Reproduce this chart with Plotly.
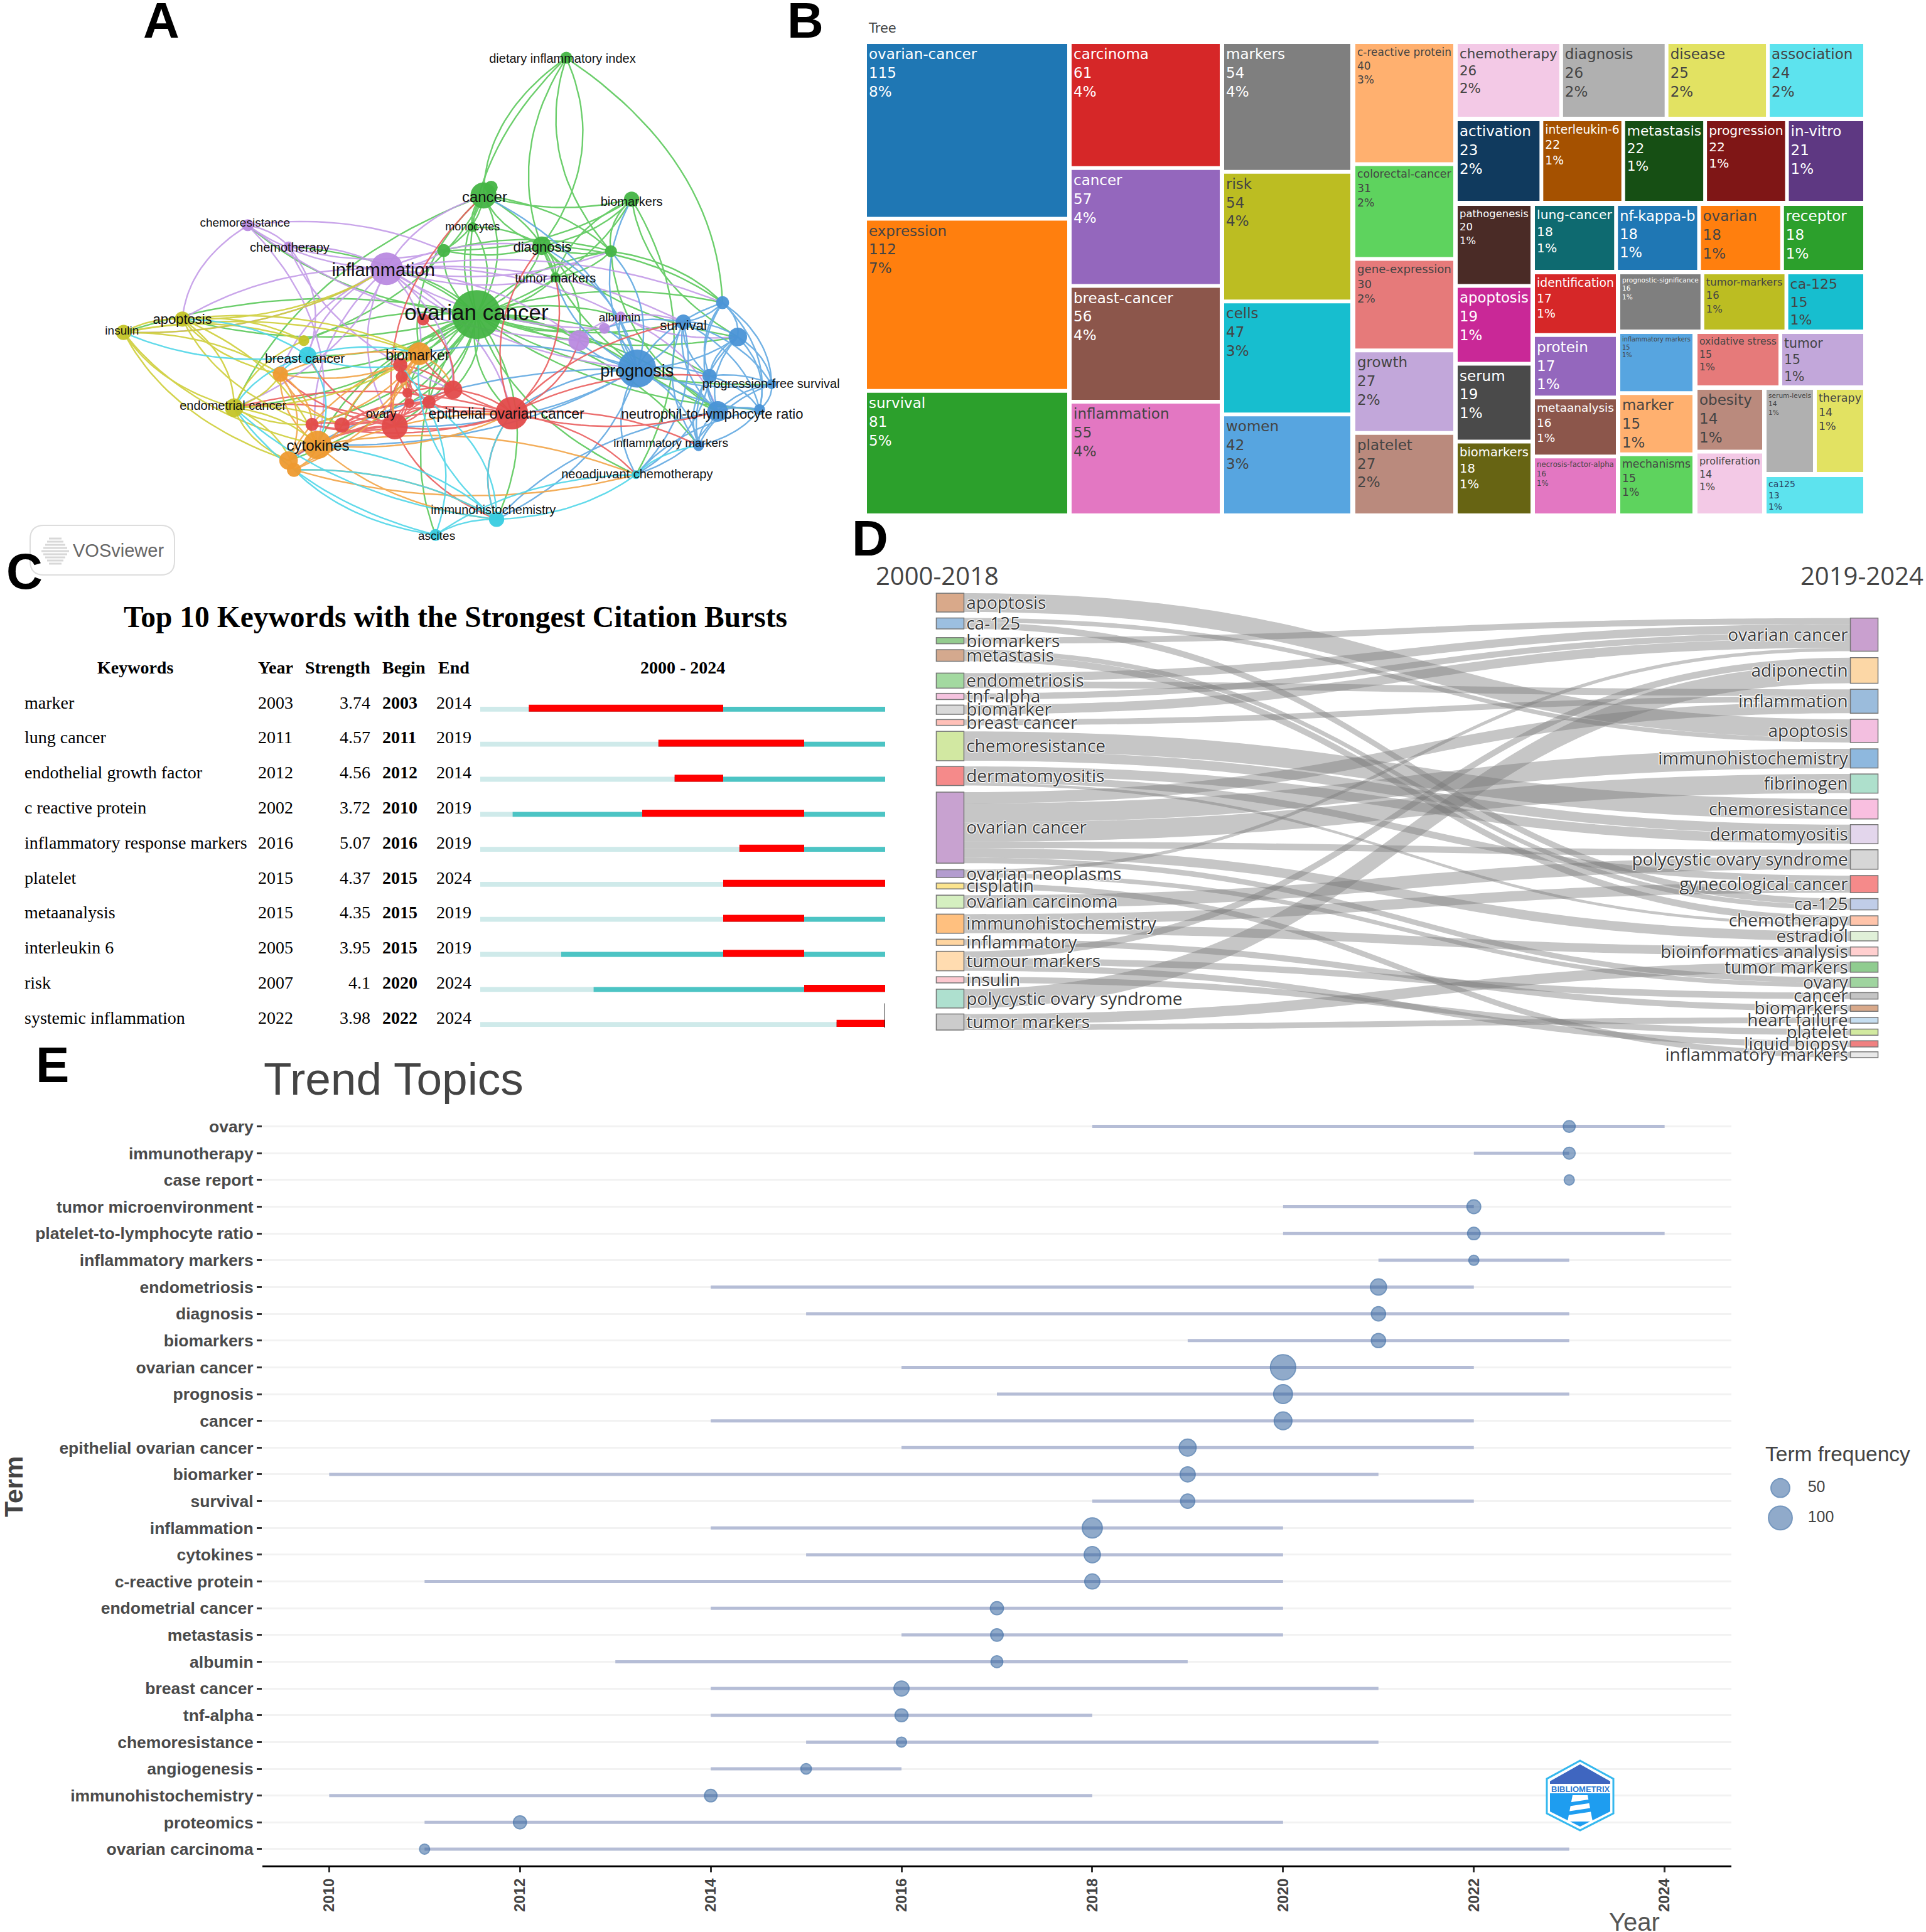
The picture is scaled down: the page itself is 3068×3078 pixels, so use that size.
import plotly.graph_objects as go

W = 3068
H = 3078


def fx(x):
    return x / W


def fy(y):
    return 1 - y / H


# ---- A: keyword network (units are picture units, mapped on the axes below)
node_ids = ["oc", "infl", "prog", "eoc", "ovary", "cancer", "can2", "bmks", "diet", "mono", "g1", "diag", "g2", "tm",
            "chemr", "chemo", "alb", "p1", "p2", "surv", "b1", "b2", "b3", "pfs", "nlr", "b4", "im", "neo", "ihc",
            "asc", "bc", "ins", "apo", "o1", "ec", "bmk", "or1", "cyt", "or2", "or3", "r1", "r2", "r3", "r4", "r5",
            "r6", "r7", "r8", "r9"]
node_x = [875, 710, 1170, 940, 725, 888, 902, 1160, 1040, 868, 815, 995, 1122, 1020,
          455, 530, 1140, 1110, 1063, 1255, 1327, 1355, 1303, 1417, 1318, 1395, 1283, 1168, 912,
          800, 565, 227, 335, 558, 430, 770, 515, 583, 530, 540, 735, 738, 748, 752, 788,
          832, 628, 573, 777]
node_y = [845, 722, 990, 1110, 1145, 525, 503, 535, 155, 610, 673, 660, 675, 745,
          605, 662, 850, 882, 915, 865, 813, 905, 1010, 1032, 1105, 1100, 1197, 1275, 1395,
          1437, 955, 893, 857, 915, 1095, 950, 1005, 1195, 1237, 1262, 980, 1012, 1055, 1083, 1080,
          1047, 1142, 1140, 858]
node_r = [45, 30, 35, 30, 24, 24, 12, 14, 11, 9, 12, 17, 11, 9,
          11, 9, 9, 10, 19, 14, 12, 17, 13, 9, 19, 10, 10, 8, 14,
          11, 16, 14, 14, 10, 17, 21, 14, 26, 17, 13, 13, 11, 9, 9, 12,
          17, 14, 12, 11]
node_group = ["green", "purple", "blue", "red", "red", "green", "green", "green", "green", "green", "green", "green",
              "green", "green", "purple", "purple", "purple", "purple", "purple", "blue", "blue", "blue", "blue",
              "blue", "blue", "blue", "blue", "cyan", "cyan", "cyan", "cyan", "olive", "olive", "olive", "olive",
              "orange", "orange", "orange", "orange", "orange", "red", "red", "red", "red", "red", "red", "red",
              "red", "red"]
group_colors = {"green": "#5cc95c", "purple": "#c49ce8", "blue": "#62a9e2", "red": "#ea5f5f", "orange": "#f2a548",
                "olive": "#cfcf3a", "cyan": "#50d6e8"}
node_colors = {"green": "#45b445", "purple": "#b98ae0", "blue": "#4a94d6", "red": "#e24a4a", "orange": "#ee9a30",
               "olive": "#c4c428", "cyan": "#38cce0"}
node_labels = {"oc": "ovarian cancer", "infl": "inflammation", "prog": "prognosis", "cancer": "cancer",
               "eoc": "epithelial ovarian cancer", "ovary": "ovary", "bmks": "biomarkers",
               "diet": "dietary inflammatory index", "mono": "monocytes", "diag": "diagnosis", "tm": "tumor markers",
               "chemr": "chemoresistance", "chemo": "chemotherapy", "alb": "albumin", "surv": "survival",
               "pfs": "progression-free survival", "nlr": "neutrophil-to-lymphocyte ratio",
               "im": "inflammatory markers", "neo": "neoadjuvant chemotherapy", "ihc": "immunohistochemistry",
               "asc": "ascites", "bc": "breast cancer", "ins": "insulin", "apo": "apoptosis",
               "ec": "endometrial cancer", "bmk": "biomarker", "cyt": "cytokines"}
label_x = {"oc": 875, "infl": 704, "prog": 1170, "cancer": 890, "eoc": 930, "ovary": 700, "bmks": 1160, "diet": 1033,
           "mono": 868, "diag": 996, "tm": 1020, "chemr": 450, "chemo": 532, "alb": 1138, "surv": 1255, "pfs": 1416,
           "nlr": 1308, "im": 1232, "neo": 1170, "ihc": 906, "asc": 802, "bc": 560, "ins": 224, "apo": 335, "ec": 428,
           "bmk": 767, "cyt": 584}
label_y = {"oc": 845, "infl": 730, "prog": 1000, "cancer": 533, "eoc": 1115, "ovary": 1115, "bmks": 545, "diet": 160,
           "mono": 612, "diag": 666, "tm": 750, "chemr": 600, "chemo": 668, "alb": 855, "surv": 877, "pfs": 1034,
           "nlr": 1115, "im": 1192, "neo": 1276, "ihc": 1372, "asc": 1442, "bc": 965, "ins": 891, "apo": 861, "ec": 1092,
           "bmk": 958, "cyt": 1201}
label_size = {"oc": 35, "infl": 29, "prog": 27, "cancer": 24, "eoc": 23, "ovary": 20, "bmks": 20, "diet": 20,
              "mono": 18, "diag": 22, "tm": 20, "chemr": 19, "chemo": 20, "alb": 19, "surv": 22, "pfs": 20,
              "nlr": 22, "im": 19, "neo": 20, "ihc": 20, "asc": 19, "bc": 21, "ins": 19, "apo": 22, "ec": 20,
              "bmk": 23, "cyt": 24}
hub_links = {
    "oc": "infl prog eoc ovary cancer can2 bmks diet mono g1 diag g2 tm chemr chemo alb p1 p2 surv b1 b2 b3 pfs nlr b4 im neo ihc asc bc ins apo o1 ec bmk or1 cyt or2 r1 r2 r3 r4 r5 r6 r7 r8 r9",
    "infl": "cancer g1 diag tm chemr chemo alb p1 p2 prog ins apo ec bc bmk ovary eoc cyt surv g2 b1 or1 r6",
    "prog": "p1 p2 surv b1 b2 b3 pfs nlr b4 im neo ihc eoc alb diag tm cancer bmks g2 ovary bmk cyt or2",
    "eoc": "ovary r6 r5 r7 bmk cyt neo ihc im nlr surv tm diag ec b3 p2 r8",
    "ovary": "r7 r8 r1 r2 r3 r4 r5 r6 cyt or1 ec bmk ihc bc or2 cancer",
    "cancer": "can2 diet mono g1 diag g2 bmks tm bmk o1 ec",
    "bmks": "diag g2 g1 tm neo b2",
    "diet": "diag tm b1 g2",
    "diag": "g1 g2 tm mono b1 b2 p2 nlr",
    "g2": "tm g1 b1 nlr",
    "chemr": "chemo apo g1 p2 cyt",
    "chemo": "g1 bc r6",
    "alb": "p1 p2 surv b2 nlr",
    "surv": "b1 b2 b3 pfs nlr b4 im neo p1",
    "b1": "b2 b3 pfs nlr b4",
    "b2": "b3 pfs nlr b4 im",
    "b3": "pfs nlr b4 im neo",
    "pfs": "nlr b4 im",
    "nlr": "b4 im neo ihc",
    "b4": "im neo",
    "neo": "ihc asc im",
    "ihc": "asc eoc r5 bmk or3 ec cyt",
    "asc": "ec r1 or3",
    "bc": "or1 bmk ec cyt apo ins r1",
    "ins": "apo ec or1 or2 bmk cyt o1 infl",
    "apo": "ec or1 o1 infl cyt r8 bmk",
    "ec": "or1 cyt or2 or3 r8 r7 bmk o1",
    "bmk": "or1 cyt or2 or3 r1 r2 r3 r6 r7 r8 ovary",
    "cyt": "or1 or2 or3 r7 r8 eoc neo ihc",
    "or1": "r8 r7 or2 r1",
    "or3": "ihc neo eoc",
    "r6": "r1 r2 r3 r4 r5 r7 r9",
    "r5": "r1 r3 r4 r7",
    "r1": "r2 r3 r4",
    "r2": "r3 r4",
    "r7": "r8 r4",
}

# ---- B: keyword treemap
tree_terms = ["ovarian-cancer", "expression", "survival", "carcinoma", "cancer", "breast-cancer", "inflammation",
              "markers", "risk", "cells", "women", "c-reactive protein", "colorectal-cancer", "gene-expression",
              "growth", "platelet", "chemotherapy", "diagnosis", "disease", "association", "activation",
              "interleukin-6", "metastasis", "progression", "in-vitro", "pathogenesis", "apoptosis", "serum",
              "biomarkers", "lung-cancer", "nf-kappa-b", "ovarian", "receptor", "identification", "protein",
              "metaanalysis", "necrosis-factor-alpha", "prognostic-significance", "tumor-markers", "ca-125",
              "inflammatory markers", "marker", "mechanisms", "oxidative stress", "tumor", "obesity", "proliferation",
              "serum-levels", "therapy", "ca125"]
tree_counts = [115, 112, 81, 61, 57, 56, 55, 54, 54, 47, 42, 40, 31, 30, 27, 27, 26, 26, 25, 24, 23, 22, 22, 22, 21,
               20, 19, 19, 18, 18, 18, 18, 18, 17, 17, 16, 16, 16, 16, 15, 15, 15, 15, 15, 15, 14, 14, 14, 14, 13]
tree_colors = ["#1f77b4", "#ff7f0e", "#2ca02c", "#d62728", "#9467bd", "#8c564b", "#e377c2", "#7f7f7f", "#bcbd22",
               "#17becf", "#57a5e0", "#ffb06f", "#5ed35e", "#e67a7a", "#c2a7da", "#ba8a7d", "#f3c9e6", "#b0b0b0",
               "#e2e262", "#5de3ee", "#103a5e", "#a55100", "#164f14", "#7f1616", "#5e3882", "#4a2b26", "#c92897",
               "#4a4a4a", "#676413", "#0e6a70", "#1f77b4", "#ff7f0e", "#2ca02c", "#d62728", "#9467bd", "#8c564b",
               "#e377c2", "#7f7f7f", "#bcbd22", "#17becf", "#57a5e0", "#ffb06f", "#5ed35e", "#e67a7a", "#c2a7da",
               "#ba8a7d", "#f3c9e6", "#b0b0b0", "#e2e262", "#5de3ee"]
# how many terms go in each strip of tiles, and the box of that strip on the page
tree_strip_len = [3, 4, 4, 5, 4, 5, 4, 4, 4, 3, 3, 2, 2, 2, 1]
tree_strip_box = [(1381, 1700, 70, 818), (1707, 1943, 70, 818), (1950, 2151, 70, 818), (2159, 2315, 70, 818),
                  (2322, 2968, 70, 186), (2322, 2968, 193, 320), (2322, 2438, 328, 818),
                  (2445, 2968, 328, 430), (2445, 2574, 437, 818), (2581, 2968, 437, 525), (2581, 2696, 532, 818),
                  (2704, 2968, 532, 614), (2704, 2807, 621, 818), (2814, 2968, 621, 752), (2814, 2968, 760, 818)]

# ---- C: citation bursts
burst_keywords = ["marker", "lung cancer", "endothelial growth factor", "c reactive protein",
                  "inflammatory response markers", "platelet", "metaanalysis", "interleukin 6", "risk",
                  "systemic inflammation"]
burst_year = [2003, 2011, 2012, 2002, 2016, 2015, 2015, 2005, 2007, 2022]
burst_strength = ["3.74", "4.57", "4.56", "3.72", "5.07", "4.37", "4.35", "3.95", "4.1", "3.98"]
burst_begin = [2003, 2011, 2012, 2010, 2016, 2015, 2015, 2015, 2020, 2022]
burst_end = [2014, 2019, 2014, 2019, 2019, 2024, 2019, 2019, 2024, 2024]

# ---- D: thematic evolution
left_terms = ["apoptosis", "ca-125", "biomarkers", "metastasis", "endometriosis", "tnf-alpha", "biomarker",
              "breast cancer", "chemoresistance", "dermatomyositis", "ovarian cancer", "ovarian neoplasms", "cisplatin",
              "ovarian carcinoma", "immunohistochemistry", "inflammatory", "tumour markers", "insulin",
              "polycystic ovary syndrome", "tumor markers"]
left_colors = ["#d9a98a", "#9cbfe0", "#94cc8e", "#d4a98e", "#a3d9a0", "#f5c3df", "#d9d9d9", "#ffc0b8", "#d2e8a2",
               "#f58a8a", "#c8a2d0", "#b39ccf", "#fbe48e", "#d5efc0", "#ffc07f", "#ffd5a0", "#ffdcb0", "#fcc8cf",
               "#aee0cf", "#cccccc"]
left_top = [228, 300, 357, 392, 460, 519, 553, 595, 629, 731, 805, 1031, 1070, 1105, 1160, 1233, 1268, 1342, 1378, 1450]
left_bottom = [283, 332, 375, 426, 504, 537, 580, 612, 715, 787, 1013, 1054, 1087, 1143, 1216, 1251, 1325, 1360, 1433, 1497]
right_terms = ["ovarian cancer", "adiponectin", "inflammation", "apoptosis", "immunohistochemistry", "fibrinogen",
               "chemoresistance", "dermatomyositis", "polycystic ovary syndrome", "gynecological cancer", "ca-125",
               "chemotherapy", "estradiol", "bioinformatics analysis", "tumor markers", "ovary", "cancer", "biomarkers",
               "heart failure", "platelet", "liquid biopsy", "inflammatory markers"]
right_colors = ["#c9a0cf", "#fcd7a6", "#9bbcdc", "#f3bfe0", "#8eb8de", "#aee0cc", "#f9bfe0", "#e3d6ec", "#d6d6d6",
                "#f58a8a", "#c0cde8", "#ffc4aa", "#e0f0d8", "#ffcfcf", "#8fcc8f", "#9fd49f", "#c4c4c4", "#d9a98a",
                "#c6def0", "#d2eaa0", "#f08080", "#e8e8e8"]
right_top = [300, 415, 507, 594, 680, 753, 827, 900, 973, 1048, 1115, 1165, 1210, 1255, 1300, 1345, 1388, 1425, 1460,
             1494, 1529, 1560]
right_bottom = [397, 490, 577, 662, 736, 809, 883, 956, 1030, 1098, 1148, 1193, 1238, 1282, 1328, 1372, 1407, 1442,
                1477, 1512, 1545, 1577]
link_from = ["apoptosis", "ca-125", "ca-125", "biomarkers", "metastasis", "metastasis", "endometriosis", "endometriosis",
             "tnf-alpha", "biomarker", "breast cancer", "chemoresistance", "chemoresistance", "dermatomyositis",
             "dermatomyositis", "dermatomyositis", "ovarian cancer", "ovarian cancer", "ovarian cancer",
             "ovarian cancer", "ovarian cancer", "ovarian cancer", "ovarian neoplasms", "ovarian neoplasms",
             "cisplatin", "ovarian carcinoma", "immunohistochemistry", "immunohistochemistry", "inflammatory",
             "tumour markers", "tumour markers", "tumour markers", "insulin", "polycystic ovary syndrome",
             "tumor markers", "tumor markers"]
link_to = ["apoptosis", "apoptosis", "ca-125", "ovarian cancer", "ca-125", "chemotherapy", "ovarian cancer",
           "inflammation", "ovarian cancer", "ovarian cancer", "inflammation", "chemoresistance", "dermatomyositis",
           "dermatomyositis", "gynecological cancer", "chemotherapy", "inflammation", "immunohistochemistry",
           "fibrinogen", "polycystic ovary syndrome", "estradiol", "ovary", "ovarian cancer", "ovary",
           "inflammatory markers", "polycystic ovary syndrome", "gynecological cancer", "bioinformatics analysis",
           "biomarkers", "adiponectin", "cancer", "liquid biopsy", "platelet", "adiponectin", "tumor markers",
           "heart failure"]
link_value = [55, 13, 19, 18, 14, 20, 24, 20, 18, 27, 17, 58, 28, 28, 20, 8, 33, 56, 56, 19, 28, 16, 10, 13, 17, 38,
              30, 26, 18, 20, 19, 18, 18, 55, 30, 17]

# ---- E: trend topics
trend_terms = ["ovary", "immunotherapy", "case report", "tumor microenvironment", "platelet-to-lymphocyte ratio",
               "inflammatory markers", "endometriosis", "diagnosis", "biomarkers", "ovarian cancer", "prognosis",
               "cancer", "epithelial ovarian cancer", "biomarker", "survival", "inflammation", "cytokines",
               "c-reactive protein", "endometrial cancer", "metastasis", "albumin", "breast cancer", "tnf-alpha",
               "chemoresistance", "angiogenesis", "immunohistochemistry", "proteomics", "ovarian carcinoma"]
trend_q1 = [2018, 2022, 2023, 2020, 2020, 2021, 2014, 2015, 2019, 2016, 2017, 2014, 2016, 2010, 2018, 2014, 2015, 2011,
            2014, 2016, 2013, 2014, 2014, 2015, 2014, 2010, 2011, 2011]
trend_median = [2023, 2023, 2023, 2022, 2022, 2022, 2021, 2021, 2021, 2020, 2020, 2020, 2019, 2019, 2019, 2018, 2018,
                2018, 2017, 2017, 2017, 2016, 2016, 2016, 2015, 2014, 2012, 2011]
trend_q3 = [2024, 2023, 2023, 2022, 2024, 2023, 2022, 2023, 2023, 2022, 2023, 2022, 2022, 2021, 2022, 2020, 2020, 2020,
            2020, 2020, 2019, 2021, 2018, 2021, 2016, 2018, 2020, 2023]
trend_freq = [13, 13, 8, 20, 15, 8, 32, 22, 22, 120, 50, 42, 37, 26, 22, 60, 32, 26, 17, 15, 13, 26, 17, 8, 9, 15, 17, 8]
legend_freq = [50, 100]


def freq_size(f):
    return 7.9 * f ** 0.34


fig = go.Figure()
annotations = []
shapes = []


def note(x, y, text, size, color="#000000", family="Liberation Sans", xanchor="left", bold=False, angle=0):
    annotations.append(dict(xref="paper", yref="paper", x=fx(x), y=fy(y), text=f"<b>{text}</b>" if bold else text,
                            showarrow=False, xanchor=xanchor, yanchor="middle", textangle=angle,
                            font=dict(size=size, color=color, family=family)))


# ---- panel A
pos = {n: (node_x[i], node_y[i], node_group[i]) for i, n in enumerate(node_ids)}
edge_x = {g: [] for g in group_colors}
edge_y = {g: [] for g in group_colors}
flip = 1
for hub, targets in hub_links.items():
    x0, y0, grp = pos[hub]
    for t in targets.split():
        x1, y1, _ = pos[t]
        # curved links like VOSviewer draws them
        cx = (x0 + x1) / 2 - (y1 - y0) * 0.2 * flip
        cy = (y0 + y1) / 2 + (x1 - x0) * 0.2 * flip
        flip = -flip
        for k in range(25):
            s = k / 24
            edge_x[grp].append((1 - s) ** 2 * x0 + 2 * s * (1 - s) * cx + s ** 2 * x1)
            edge_y[grp].append((1 - s) ** 2 * y0 + 2 * s * (1 - s) * cy + s ** 2 * y1)
        edge_x[grp].append(None)
        edge_y[grp].append(None)
for g, c in group_colors.items():
    fig.add_trace(go.Scatter(x=edge_x[g], y=edge_y[g], mode="lines", xaxis="x", yaxis="y", hoverinfo="skip",
                             line=dict(color=c, width=2.4), opacity=0.9, showlegend=False))
fig.add_trace(go.Scatter(x=node_x, y=node_y, mode="markers", xaxis="x", yaxis="y", showlegend=False,
                         marker=dict(size=[r * 2 / 1.153 for r in node_r], color=[node_colors[g] for g in node_group],
                                     opacity=0.95, line=dict(width=0))))
ids = list(node_labels)
fig.add_trace(go.Scatter(x=[label_x[i] for i in ids], y=[label_y[i] for i in ids], text=[node_labels[i] for i in ids],
                         mode="text", xaxis="x", yaxis="y", showlegend=False, textposition="middle center",
                         textfont=dict(size=[label_size[i] for i in ids], color="#111111", family="Liberation Sans")))

# ---- panel B: one treemap trace per strip, so the tiles fall in the same strips as the picture
tree_total = sum(tree_counts)
tree_pct = [f"{round(100 * v / tree_total)}%" for v in tree_counts]
start = 0
for count, box in zip(tree_strip_len, tree_strip_box):
    part = slice(start, start + count)
    start += count
    fig.add_trace(go.Treemap(labels=tree_terms[part], parents=[""] * count, values=tree_counts[part],
                             customdata=tree_pct[part], texttemplate="%{label}<br>%{value}<br>%{customdata}",
                             sort=True, domain=dict(x=[fx(box[0]), fx(box[1])], y=[fy(box[3]), fy(box[2])]),
                             marker=dict(colors=tree_colors[part], line=dict(width=0), pad=dict(t=0, l=0, r=0, b=0)),
                             tiling=dict(pad=6, squarifyratio=1.1), pathbar=dict(visible=False),
                             textfont=dict(size=23, family="DejaVu Sans")))
note(1381, 45, "Tree", 21, "#444444", "DejaVu Sans")

# ---- panel C
rows = list(range(len(burst_keywords)))
fig.add_trace(go.Bar(y=rows, x=[2025 - 2000] * 10, base=[2000] * 10, orientation="h", width=0.14, offset=-0.07,
                     xaxis="x2", yaxis="y2", marker=dict(color="#cfeaea", line=dict(width=0)), showlegend=False))
fig.add_trace(go.Bar(y=rows, x=[2025 - v for v in burst_year], base=burst_year, orientation="h", width=0.14,
                     offset=-0.07, xaxis="x2", yaxis="y2", marker=dict(color="#4cc4c4", line=dict(width=0)),
                     showlegend=False))
fig.add_trace(go.Bar(y=rows, x=[e + 1 - b for b, e in zip(burst_begin, burst_end)], base=burst_begin, orientation="h",
                     width=0.2, offset=-0.13, xaxis="x2", yaxis="y2", marker=dict(color="#ff0000", line=dict(width=0)),
                     showlegend=False))
fig.add_trace(go.Scatter(x=[2025, 2025], y=[8.4, 9.1], mode="lines", xaxis="x2", yaxis="y2", cliponaxis=False,
                         line=dict(color="#222222", width=2), showlegend=False))
serif = "Liberation Serif"
note(725, 983, "Top 10 Keywords with the Strongest Citation Bursts", 47.5, family=serif, xanchor="center", bold=True)
note(215, 1063, "Keywords", 28, family=serif, xanchor="center", bold=True)
note(409, 1063, "Year", 28, family=serif, bold=True)
note(484, 1063, "Strength", 28, family=serif, bold=True)
note(607, 1063, "Begin", 28, family=serif, bold=True)
note(696, 1063, "End", 28, family=serif, bold=True)
note(1087, 1063, "2000 - 2024", 28, family=serif, xanchor="center", bold=True)
for i in rows:
    ry = 1119 + 55.8 * i
    note(37, ry, burst_keywords[i], 28, family=serif)
    note(409, ry, str(burst_year[i]), 28, family=serif)
    note(592, ry, burst_strength[i], 28, family=serif, xanchor="right")
    note(607, ry, str(burst_begin[i]), 28, family=serif, bold=True)
    note(693, ry, str(burst_end[i]), 28, family=serif)

# ---- panel D
sk_top = 228
sk_bottom = 1577
sk_labels = left_terms + right_terms
sk_x = [0.001] * len(left_terms) + [0.999] * len(right_terms)
sk_y = [((a + b) / 2 - sk_top) / (sk_bottom - sk_top) for a, b in zip(left_top + right_top, left_bottom + right_bottom)]
sk_src = [left_terms.index(n) for n in link_from]
sk_tgt = [len(left_terms) + right_terms.index(n) for n in link_to]
fig.add_trace(go.Sankey(arrangement="fixed", domain=dict(x=[fx(1512), fx(2971)], y=[fy(1685), fy(945)]),
                        node=dict(label=sk_labels, x=sk_x, y=sk_y, color=left_colors + right_colors, pad=11.3,
                                  thickness=44, line=dict(color="#777777", width=1.5)),
                        link=dict(source=sk_src, target=sk_tgt, value=link_value, color="rgba(120,120,120,0.42)"),
                        textfont=dict(size=28, color="#3a3a3a", family="Open Sans")))
note(1393, 916, "2000-2018", 40, "#444444", "Open Sans")
note(3066, 916, "2019-2024", 40, "#444444", "Open Sans", xanchor="right")

# ---- panel E
seg_x = []
seg_y = []
for term, a, b in zip(trend_terms, trend_q1, trend_q3):
    seg_x += [a, b, None]
    seg_y += [term, term, None]
fig.add_trace(go.Scatter(x=seg_x, y=seg_y, mode="lines", xaxis="x3", yaxis="y3", showlegend=False,
                         line=dict(color="#b5bdd6", width=5)))
dot = dict(color="rgba(45,95,155,0.75)", line=dict(color="#3a6ba3", width=2))
fig.add_trace(go.Scatter(x=trend_median, y=trend_terms, mode="markers", xaxis="x3", yaxis="y3", showlegend=False,
                         marker=dict(size=[freq_size(f) for f in trend_freq], **dot)))
legend_labels = [str(f) for f in legend_freq]
fig.add_trace(go.Scatter(x=[0, 0], y=legend_labels, mode="markers", xaxis="x4", yaxis="y4", showlegend=False,
                         marker=dict(size=[freq_size(f) for f in legend_freq], **dot)))
fig.add_trace(go.Scatter(x=[0.78, 0.78], y=legend_labels, mode="text", xaxis="x4", yaxis="y4", showlegend=False,
                         text=legend_labels, textposition="middle right", cliponaxis=False,
                         textfont=dict(size=25, color="#444444", family="Liberation Sans")))
note(2810, 2316, "Term frequency", 33.5, "#444444")
note(418, 1718, "Trend Topics", 73, "#444444")
note(2603, 3062, "Year", 40, "#555555", xanchor="center")
note(22, 2369, "Term", 41, "#444444", xanchor="center", bold=True, angle=-90)

# bibliometrix badge
hex_outer = [(2517, 2805), (2570, 2834), (2570, 2889), (2517, 2916), (2464, 2889), (2464, 2834)]
hex_inner = [(2517, 2811), (2565, 2838), (2565, 2886), (2517, 2910), (2469, 2886), (2469, 2838)]
roof = [(2517, 2811), (2565, 2838), (2565, 2842), (2469, 2842), (2469, 2838)]


def poly(points, fill, line="rgba(0,0,0,0)", lw=0):
    path = "M " + " L ".join(f"{fx(a):.5f} {fy(b):.5f}" for a, b in points) + " Z"
    shapes.append(dict(type="path", xref="paper", yref="paper", path=path, fillcolor=fill, line=dict(color=line, width=lw),
                       layer="above"))


poly(hex_outer, "#ffffff", "#35b8ee", 3)
poly(hex_inner, "#1e9df0")
poly(roof, "#3f66c0")
poly([(2469, 2842), (2565, 2842), (2565, 2857), (2469, 2857)], "#ffffff")
poly([(2505, 2860), (2529, 2860), (2537, 2902), (2497, 2902)], "#ffffff")
poly([(2497, 2872), (2537, 2866), (2537, 2872), (2497, 2878)], "#1e9df0")
poly([(2497, 2886), (2537, 2880), (2537, 2886), (2497, 2892)], "#1e9df0")
note(2517, 2850, "BIBLIOMETRIX", 13, "#2a78d0", xanchor="center", bold=True)

# VOSviewer box
bx0, bx1, by0, by1, rr = fx(48), fx(278), fy(837), fy(916), 22 / W
ry_ = 22 / H
shapes.append(dict(type="path", xref="paper", yref="paper",
                   path=f"M {bx0 + rr} {by0} L {bx1 - rr} {by0} Q {bx1} {by0} {bx1} {by0 - ry_} L {bx1} {by1 + ry_} "
                        f"Q {bx1} {by1} {bx1 - rr} {by1} L {bx0 + rr} {by1} Q {bx0} {by1} {bx0} {by1 + ry_} "
                        f"L {bx0} {by0 - ry_} Q {bx0} {by0} {bx0 + rr} {by0} Z",
                   fillcolor="#ffffff", line=dict(color="#dddddd", width=2), layer="below"))
for k in range(9):
    shapes.append(dict(type="line", xref="paper", yref="paper", x0=fx(66 + abs(4 - k) * 3), x1=fx(110 - abs(4 - k) * 3),
                       y0=fy(858 + k * 5), y1=fy(858 + k * 5), line=dict(color="#d8d8d8", width=3), layer="below"))
note(114, 877, "VOSviewer", 29, "#666666")

# panel letters
for letter, lx, ly in [("A", 257, 33), ("B", 1283, 32), ("C", 39, 910), ("D", 1386, 858), ("E", 83, 1696)]:
    note(lx, ly, letter, 80, xanchor="center", bold=True)

no_axis = dict(visible=False, fixedrange=True)
fig.update_layout(
    width=W, height=H, margin=dict(l=0, r=0, t=0, b=0), autosize=False,
    paper_bgcolor="#ffffff", plot_bgcolor="rgba(0,0,0,0)", barmode="overlay", showlegend=False,
    annotations=annotations, shapes=shapes,
    xaxis=dict(domain=[fx(0), fx(1360)], range=[0, 1568], anchor="y", **no_axis),
    yaxis=dict(domain=[fy(930), fy(0)], range=[1568, 0], anchor="x", **no_axis),
    xaxis2=dict(domain=[fx(765), fx(1410)], range=[2000, 2025], anchor="y2", **no_axis),
    yaxis2=dict(domain=[fy(1660), fy(1102)], range=[9.5, -0.5], anchor="x2", **no_axis),
    xaxis3=dict(domain=[fx(418), fx(2758)], range=[2009.3, 2024.7], anchor="y3", showgrid=False, zeroline=False,
                showline=True, linecolor="#000000", linewidth=3, tickvals=list(range(2010, 2025, 2)), ticks="outside",
                ticklen=8, tickwidth=3, tickcolor="#333333", tickangle=-90,
                tickfont=dict(size=24, color="#444444", family="Liberation Sans", weight="bold")),
    yaxis3=dict(domain=[fy(2972), fy(1769)], type="category", categoryorder="array", categoryarray=trend_terms[::-1],
                range=[-0.61, 27.6], anchor="x3", showgrid=True, gridcolor="#f2f2f2", gridwidth=3, zeroline=False,
                showline=False, ticks="outside", ticklen=8, tickwidth=3, tickcolor="#333333",
                tickfont=dict(size=26.5, color="#4a4a4a", family="Liberation Sans", weight="bold")),
    xaxis4=dict(domain=[fx(2780), fx(2892)], range=[-1, 1], anchor="y4", **no_axis),
    yaxis4=dict(domain=[fy(2447), fy(2347)], type="category", categoryorder="array",
                categoryarray=legend_labels[::-1], anchor="x4", **no_axis),
)

fig.write_html("out.html", config={"displayModeBar": False}, post_script="document.body.style.margin='0';")
